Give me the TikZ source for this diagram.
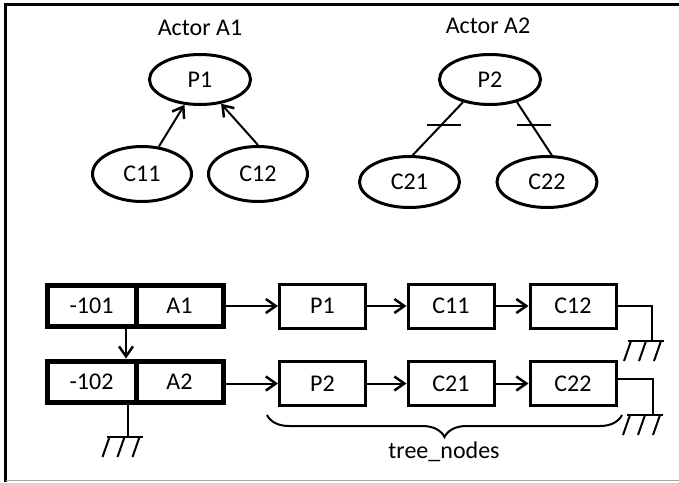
\documentclass[tikz,border=0pt]{standalone}
\usepackage{fontspec}
\setmainfont{Carlito}
\usetikzlibrary{arrows.meta,decorations.pathreplacing,shapes.geometric}
\tikzset{
  txt/.style={font=\fontsize{24}{28}\selectfont},
  ell/.style={ellipse, draw, line width=3pt, inner sep=0pt, txt},
  tbox/.style={rectangle, draw, line width=5pt, minimum height=41pt, inner sep=0pt, txt},
  lbox/.style={rectangle, draw, line width=3pt, minimum width=86pt, minimum height=44pt, inner sep=0pt, txt},
  conn/.style={line width=2pt},
  arr/.style={conn, -{Straight Barb[length=10pt,width=14pt,line width=2.5pt]}},
  gnd/.pic={
    \draw[conn] (-18,0) -- (18,0);
    \foreach \gx in {-15,0,15} \draw[conn] (\gx,0) -- (\gx-7,20);
  }
}
\begin{document}
\begin{tikzpicture}[x=1pt,y=-1pt]
\useasboundingbox (0,0) rectangle (679,482);
% frame
\draw[line width=3pt] (5.5,482) -- (5.5,4) -- (679,4);
\draw[black!35, line width=1pt] (5.5,480.5) -- (679,480.5);

% Actor A1
\node[txt] (actA1) at (200,28) {Actor A1};
\node[ell, minimum width=101pt, minimum height=50pt] (p1) at (200,79.5) {P1};
\node[ell, minimum width=99pt, minimum height=55pt] (c11) at (142,174) {C11};
\node[ell, minimum width=99pt, minimum height=55pt] (c12) at (258,174) {C12};
\draw[arr] (c11) -- (p1);
\draw[arr] (c12.north) -- (p1.-49);

% Actor A2
\node[txt] (actA2) at (488,26) {Actor A2};
\node[ell, minimum width=101pt, minimum height=50pt] (p2) at (490,79.5) {P2};
\node[ell, minimum width=100pt, minimum height=51pt] (c21) at (409.5,182) {C21};
\node[ell, minimum width=100pt, minimum height=51pt] (c22) at (547,182) {C22};
\draw[conn] (p2.-140) -- coordinate[pos=0.44] (t1) (c21.83);
\draw[conn] (p2.-40) -- coordinate[pos=0.44] (t2) (c22.80);
\draw[conn] ([xshift=-14pt]t1) -- ([xshift=20pt]t1);
\draw[conn] ([xshift=-15pt]t2) -- ([xshift=19pt]t2);

% actor list
\node[tbox, minimum width=89pt] (n101) at (91.5,306) {-101};
\node[tbox, minimum width=87pt] (a1) at (179.5,306) {A1};
\node[tbox, minimum width=89pt] (n102) at (91.5,381.5) {-102};
\node[tbox, minimum width=87pt] (a2) at (179.5,381.5) {A2};
\coordinate (v) at (126,0);
\draw[arr] (n101.south -| v) -- (n102.north -| v);

% tree nodes
\node[lbox] (p1b) at (322.5,306) {P1};
\node[lbox] (c11b) at (451,306) {C11};
\node[lbox] (c12b) at (573,306) {C12};
\node[lbox] (p2b) at (322.5,383.5) {P2};
\node[lbox] (c21b) at (451,383.5) {C21};
\node[lbox] (c22b) at (573,383.5) {C22};
\draw[arr] (a1) -- (p1b);
\draw[arr] (p1b) -- (c11b);
\draw[arr] (c11b) -- (c12b);
\draw[arr] (a2.east |- p2b.west) -- (p2b.west);
\draw[arr] (p2b) -- (c21b);
\draw[arr] (c21b) -- (c22b);

% grounds
\coordinate (g1) at (652,341);
\draw[conn] (c12b.east) -| (g1);
\pic at ([xshift=-6pt]g1) {gnd};
\coordinate (g2) at (653,415);
\draw[conn] ([yshift=5pt]c22b.east) -| (g2);
\pic at ([xshift=-8pt]g2) {gnd};
\coordinate (g3) at (128,437);
\draw[conn] (n102.south -| g3) -- (g3);
\pic at ([xshift=-3.5pt]g3) {gnd};

% brace
\coordinate (br1) at (267,415);
\coordinate (br2) at (622,415);
\draw[conn, decorate, decoration={brace, amplitude=22pt}] (br2) -- (br1);
\node[txt] (tn) at (444,452) {tree\_nodes};
\end{tikzpicture}
\end{document}
